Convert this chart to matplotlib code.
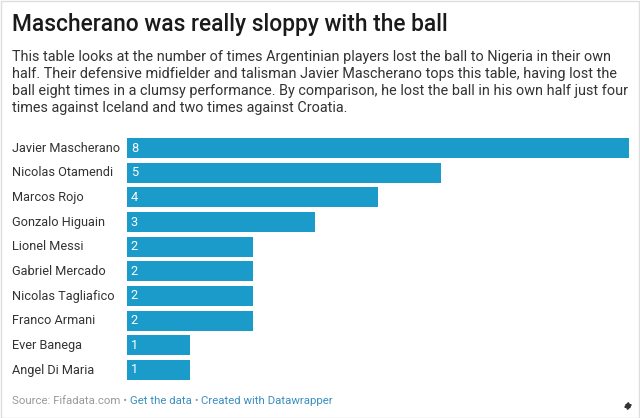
import matplotlib
matplotlib.use("Agg")
import matplotlib.pyplot as plt
from matplotlib.patches import Rectangle, FancyArrowPatch

players = ["Javier Mascherano", "Nicolas Otamendi", "Marcos Rojo", "Gonzalo Higuain",
           "Lionel Messi", "Gabriel Mercado", "Nicolas Tagliafico", "Franco Armani",
           "Ever Banega", "Angel Di Maria"]
lost = [8, 5, 4, 3, 2, 2, 2, 2, 1, 1]

title = "Mascherano was really sloppy with the ball"
subtitle_lines = [
    "This table looks at the number of times Argentinian players lost the ball to Nigeria in their own",
    "half. Their defensive midfielder and talisman Javier Mascherano tops this table, having lost the",
    "ball eight times in a clumsy performance. By comparison, he lost the ball in his own half just four",
    "times against Iceland and two times against Croatia.",
]

plt.rcParams['font.family'] = ['Roboto', 'DejaVu Sans']
W, H = 640, 418
fig = plt.figure(figsize=(W/100, H/100), dpi=100)
fig.patch.set_facecolor("white")

# border
fig.add_artist(Rectangle((0.5/W, 0.5/H), 1 - 1.5/W, 1 - 1.5/H, transform=fig.transFigure,
                         fill=False, edgecolor="#dddddd", lw=1))

ax = fig.add_axes([127/W, 1 - 382.33/H, (629-127)/W, (382.33-135.67)/H])
ypos = list(range(len(players)))
ax.barh(ypos, lost, height=0.81, color="#1a9bc9")
ax.set_xlim(0, 8)
ax.set_ylim(len(players) - 0.5, -0.5)
ax.axis("off")
for i, (p, v) in enumerate(zip(players, lost)):
    ax.text(0.06, i, str(v), color="white", fontsize=9.2, va="center", ha="left")
    fig.text(12/W, 1 - (148 + i*24.67)/H, p, color="#333333", fontsize=9.2, va="center", ha="left")

fig.text(12/W, 1 - 24/H, title, fontsize=16.4, color="#1a1a1a", va="center", ha="left",
         fontweight="medium")
for k, line in enumerate(subtitle_lines):
    fig.text(12/W, 1 - (56.5 + k*17.3)/H, line, fontsize=10.35, color="#333333",
             va="center", ha="left")

fy = 1 - 401/H
r = fig.canvas.get_renderer()
t1 = fig.text(12/W, fy, "Source: Fifadata.com • ", fontsize=8.2, color="#999999", va="center", ha="left")
bb = t1.get_window_extent(renderer=r)
t2 = fig.text(bb.x1/W, fy, "Get the data", fontsize=8.2, color="#3a8fbf", va="center", ha="left")
bb2 = t2.get_window_extent(renderer=r)
t3 = fig.text(bb2.x1/W, fy, " • ", fontsize=8.2, color="#999999", va="center", ha="left")
bb3 = t3.get_window_extent(renderer=r)
fig.text(bb3.x1/W, fy, "Created with Datawrapper", fontsize=8.2, color="#3a8fbf", va="center", ha="left")

# resize icon (no installed glyph) drawn as a small double arrow
fig.add_artist(FancyArrowPatch((623/W, 1 - 402/H), (633/W, 1 - 410/H), transform=fig.transFigure,
                               arrowstyle="<|-|>,head_length=2.5,head_width=1.8",
                               color="#333333", lw=1.4, mutation_scale=1))

fig.savefig("out.png", dpi=100, facecolor="white")
